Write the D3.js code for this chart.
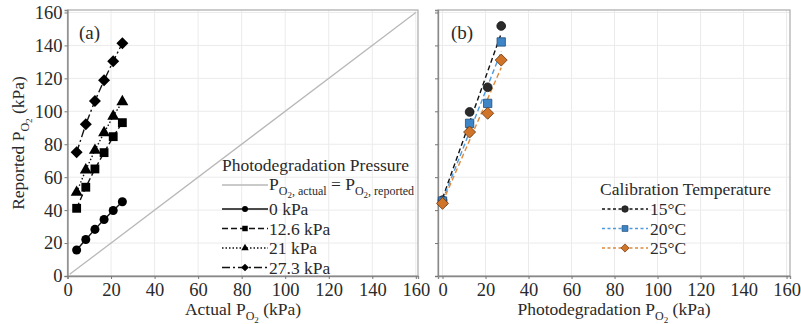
<!DOCTYPE html>
<html>
<head>
<meta charset="utf-8">
<script src="https://cdn.jsdelivr.net/npm/d3@7"></script>
<style>
  body { margin: 0; background: #fff; }
</style>
</head>
<body>
<div id="chart"></div>
<script>
// Panel (a): reported vs actual PO2 for each photodegradation pressure
const actualPO2 = [4.2, 8.4, 12.6, 16.8, 21.0, 25.2];
const reported0 = [15.8, 22.2, 28.3, 34.3, 39.8, 45.1];
const reported126 = [41.1, 53.9, 65.0, 74.9, 84.6, 93.1];
const reported21 = [50.8, 64.4, 76.3, 87.0, 97.0, 105.8];
const reported273 = [75.1, 92.1, 106.3, 118.8, 130.4, 141.3];
const identityLine = [1, 160];

// Panel (b): reported PO2 vs photodegradation PO2 by calibration temperature
const photoPO2 = [0, 12.6, 21, 27.3];
const cal15 = [46.0, 99.6, 114.6, 151.8];
const cal20 = [45.5, 92.7, 104.8, 142.1];
const cal25 = [44.1, 87.4, 98.8, 131.1];
// fitted lines, start/end values read at x = 0 and x = 27.3
const fitX = [0, 27.3];
const fit15 = [47.1, 147.3];
const fit20 = [45.8, 136.3];
const fit25 = [44.7, 126.5];

const ticks = [0, 20, 40, 60, 80, 100, 120, 140, 160];

const FONT = '"Liberation Serif", "Times New Roman", serif';

const seriesA = [
    { label: '0 kPa', values: reported0, dash: null, symbol: d3.symbolCircle, size: 64, legSize: 28 },
    { label: '12.6 kPa', values: reported126, dash: '6,3', symbol: d3.symbolSquare, size: 78, legSize: 30 },
    { label: '21 kPa', values: reported21, dash: '1.5,2', symbol: d3.symbolTriangle, size: 62, legSize: 24 },
    { label: '27.3 kPa', values: reported273, dash: '8,3,2,3', symbol: 'diamond', size: 72, legSize: 30 }
];

const seriesB = [
    { label: '15\u00B0C', values: cal15, fit: fit15, symbol: d3.symbolCircle, size: 60, fill: '#2b2b2b', stroke: '#111', line: '#111' },
    { label: '20\u00B0C', values: cal20, fit: fit20, symbol: d3.symbolSquare, size: 70, fill: '#3d85c6', stroke: '#234e78', line: '#4d9be0' },
    { label: '25\u00B0C', values: cal25, fit: fit25, symbol: 'diamond', size: 72, fill: '#cf7428', stroke: '#6e3a12', line: '#e08a3c' }
];

const svg = d3.select('#chart').append('svg')
    .attr('width', 801)
    .attr('height', 324)
    .style('font-family', FONT);

const y = d3.scaleLinear().domain([0, 161.5]).range([276, 10]);
const xA = d3.scaleLinear().domain([0, 161]).range([67.5, 418]);
const xB = d3.scaleLinear().domain([-2.1, 161.6]).range([438, 790]);

function symbolPath(sym, size) {
    if (sym === 'diamond') return d3.symbol(d3.symbolSquare, size)();
    return d3.symbol(sym, size)();
}
function symbolRotate(sym) { return sym === 'diamond' ? ' rotate(45)' : ''; }

function label(parent, x, yy, size) {
    return parent.append('text')
        .attr('x', x).attr('y', yy)
        .style('font-family', FONT)
        .style('font-size', size + 'px')
        .style('fill', '#2a2a2a');
}

// Adds "P" with an "O2" subscript (optionally followed by more subscript text)
function addPO2(t, subExtra) {
    t.append('tspan').text('P');
    t.append('tspan').attr('dy', 5).style('font-size', '12px').text('O');
    t.append('tspan').attr('dy', 3).style('font-size', '9px').text('2');
    if (subExtra) {
        t.append('tspan').attr('dy', -3).style('font-size', '12px').text(subExtra);
        return -5;
    }
    return -8;
}

function drawPanel(x, showYLabels) {
    const g = svg.append('g');
    const [x0, x1] = x.range();
    // gridlines
    g.selectAll('.gx').data(ticks).enter().append('line')
        .attr('x1', d => x(d)).attr('x2', d => x(d))
        .attr('y1', 10).attr('y2', 276)
        .attr('stroke', '#ebebeb').attr('stroke-width', 1);
    g.selectAll('.gy').data(ticks).enter().append('line')
        .attr('x1', x0).attr('x2', x1)
        .attr('y1', d => y(d)).attr('y2', d => y(d))
        .attr('stroke', '#ebebeb').attr('stroke-width', 1);
    // frame
    g.append('rect')
        .attr('x', x0).attr('y', 10)
        .attr('width', x1 - x0).attr('height', 266)
        .attr('fill', 'none').attr('stroke', '#aaa').attr('stroke-width', 1.2);
    // axes
    const xAxis = d3.axisBottom(x).tickValues(ticks).tickSize(3).tickPadding(2);
    const gx = g.append('g').attr('transform', 'translate(0,276)').call(xAxis);
    const yAxis = d3.axisLeft(y).tickValues(ticks).tickSize(3).tickPadding(2);
    if (!showYLabels) yAxis.tickFormat('');
    const gy = g.append('g').attr('transform', `translate(${x0},0)`).call(yAxis);
    [gx, gy].forEach(a => {
        a.attr('font-family', null).attr('font-size', null);
        a.select('.domain').attr('stroke', '#888').attr('stroke-width', 1.3);
        a.selectAll('.tick line').attr('stroke', '#777');
        a.selectAll('.tick text')
            .style('font-family', FONT)
            .style('font-size', '18.5px')
            .attr('fill', '#2a2a2a');
    });
    gx.selectAll('.tick text').attr('dy', '0.8em');
    return g;
}

// ---------------- Panel (a) ----------------
const gA = drawPanel(xA, true);

gA.append('line')
    .attr('x1', xA(identityLine[0])).attr('y1', y(identityLine[0]))
    .attr('x2', xA(identityLine[1])).attr('y2', y(identityLine[1]))
    .attr('stroke', '#b8b8b8').attr('stroke-width', 1.3);

const lineA = d3.line().x((d, i) => xA(actualPO2[i])).y(d => y(d));
seriesA.forEach(s => {
    gA.append('path')
        .datum(s.values)
        .attr('d', lineA)
        .attr('fill', 'none')
        .attr('stroke', '#111')
        .attr('stroke-width', 1.4)
        .attr('stroke-dasharray', s.dash);
    gA.selectAll(null).data(s.values).enter().append('path')
        .attr('d', symbolPath(s.symbol, s.size))
        .attr('transform', (d, i) => `translate(${xA(actualPO2[i])},${y(d)})${symbolRotate(s.symbol)}`)
        .attr('fill', '#000');
});

label(gA, 79, 39, 19).text('(a)');

// legend (a)
const legA = gA.append('g').attr('transform', 'translate(222,0)');
label(legA, 0, 171, 17.5).text('Photodegradation Pressure');
legA.append('line').attr('x1', 0).attr('x2', 46).attr('y1', 185).attr('y2', 185)
    .attr('stroke', '#b8b8b8').attr('stroke-width', 1.3);
const idText = label(legA, 47, 190, 17.5);
let back = addPO2(idText, ', actual');
idText.append('tspan').attr('dy', back).text(' = ');
addPO2(idText, ', reported');

seriesA.forEach((s, i) => {
    const yy = 209 + i * 19.5;
    legA.append('line').attr('x1', 0).attr('x2', 46).attr('y1', yy).attr('y2', yy)
        .attr('stroke', '#111').attr('stroke-width', 1.4).attr('stroke-dasharray', s.dash);
    legA.append('path')
        .attr('d', symbolPath(s.symbol, s.legSize))
        .attr('transform', `translate(23,${yy})${symbolRotate(s.symbol)}`)
        .attr('fill', '#000');
    label(legA, 47, yy + 6, 17.5).text(s.label);
});

// axis titles
const titleA = label(svg, 243, 315, 17.5).attr('text-anchor', 'middle');
titleA.append('tspan').text('Actual ');
back = addPO2(titleA);
titleA.append('tspan').attr('dy', back).text(' (kPa)');

const titleY = label(svg, 0, 0, 17.5)
    .attr('transform', 'translate(24,143) rotate(-90)')
    .attr('text-anchor', 'middle');
titleY.append('tspan').text('Reported ');
back = addPO2(titleY);
titleY.append('tspan').attr('dy', back).text(' (kPa)');

// ---------------- Panel (b) ----------------
const gB = drawPanel(xB, false);

seriesB.forEach(s => {
    gB.append('line')
        .attr('x1', xB(fitX[0])).attr('y1', y(s.fit[0]))
        .attr('x2', xB(fitX[1])).attr('y2', y(s.fit[1]))
        .attr('stroke', s.line).attr('stroke-width', 1.4)
        .attr('stroke-dasharray', '5,3');
});
seriesB.forEach(s => {
    gB.selectAll(null).data(s.values).enter().append('path')
        .attr('d', symbolPath(s.symbol, s.size))
        .attr('transform', (d, i) => `translate(${xB(photoPO2[i])},${y(d)})${symbolRotate(s.symbol)}`)
        .attr('fill', s.fill)
        .attr('stroke', s.stroke)
        .attr('stroke-width', 0.8);
});

label(gB, 451, 39, 19).text('(b)');

// legend (b)
const legB = gB.append('g').attr('transform', 'translate(600,0)');
label(legB, 0, 195, 17.5).text('Calibration Temperature');
seriesB.forEach((s, i) => {
    const yy = 209 + i * 19.5;
    legB.append('line').attr('x1', 2).attr('x2', 48).attr('y1', yy).attr('y2', yy)
        .attr('stroke', s.line).attr('stroke-width', 1.4).attr('stroke-dasharray', '3,2.5');
    legB.append('path')
        .attr('d', symbolPath(s.symbol, 34))
        .attr('transform', `translate(25,${yy})${symbolRotate(s.symbol)}`)
        .attr('fill', s.fill).attr('stroke', s.stroke).attr('stroke-width', 0.7);
    label(legB, 50, yy + 6, 17.5).text(s.label);
});

const titleB = label(svg, 614, 315, 17.5).attr('text-anchor', 'middle');
titleB.append('tspan').text('Photodegradation ');
back = addPO2(titleB);
titleB.append('tspan').attr('dy', back).text(' (kPa)');
</script>
</body>
</html>
